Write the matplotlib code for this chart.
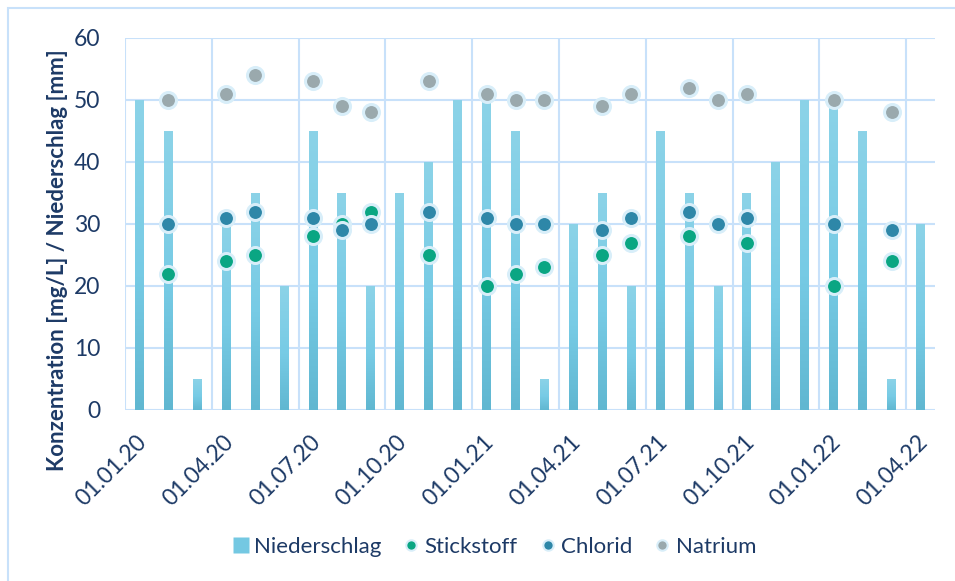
import numpy as np
import matplotlib
matplotlib.use("Agg")
import matplotlib.pyplot as plt
from matplotlib.lines import Line2D
from matplotlib.patches import Rectangle
from matplotlib.colors import LinearSegmentedColormap
from matplotlib.transforms import ScaledTranslation

# --- data -------------------------------------------------------------
tick_labels = ["01.01.20", "01.04.20", "01.07.20", "01.10.20", "01.01.21",
               "01.04.21", "01.07.21", "01.10.21", "01.01.22", "01.04.22"]

# monthly precipitation, Jan 2020 .. Apr 2022 (month index 0..27)
niederschlag = [50, 45, 5, 30, 35, 20, 45, 35, 20, 35, 40, 50,
                50, 45, 5, 30, 35, 20, 45, 35, 20, 35, 40, 50,
                50, 45, 5, 30]

# month index of each water sample
sample_months = [1, 3, 4, 6, 7, 8, 10, 12, 13, 14, 16, 17, 19, 20, 21, 24, 26]
stickstoff = [22, 24, 25, 28, 30, 32, 25, 20, 22, 23, 25, 27, 28, np.nan, 27, 20, 24]
chlorid    = [30, 31, 32, 31, 29, 30, 32, 31, 30, 30, 29, 31, 32, 30, 31, 30, 29]
natrium    = [50, 51, 54, 53, 49, 48, 53, 51, 50, 50, 49, 51, 52, 50, 51, 50, 48]

# --- style ------------------------------------------------------------
FONT = ["Lato", "DejaVu Sans"]
plt.rcParams["font.family"] = FONT
NAVY = "#1d3a66"
GRID = "#c8e1fa"
HALO = "#d8eef9"
C_STICK = "#0aa683"
C_CHLOR = "#2e87a8"
C_NAT = "#9aa9ad"
bar_cmap = LinearSegmentedColormap.from_list(
    "rain", [(0.0, "#60b7d1"), (0.45, "#77cbe5"), (1.0, "#8cd3e8")])

W, H = 955, 581
fig = plt.figure(figsize=(W / 100, H / 100), dpi=100)
ax = fig.add_axes([125 / W, 1 - 410 / H, (935 - 125) / W, (410 - 38) / H])

# outer chart frame (only top and left edges are visible)
fig.patches.append(Rectangle((8 / W, -0.2), 1.2, 1.2 - 8 / H,
                             transform=fig.transFigure, fill=False,
                             edgecolor=GRID, linewidth=1.5, clip_on=False))

months = np.arange(len(niederschlag))
bar_w = 0.31

# precipitation bars with a vertical gradient fill
bars = ax.bar(months, niederschlag, width=bar_w, color="none", zorder=2)
grad = np.linspace(0, 1, 256).reshape(-1, 1)
for rect in bars:
    x0, y0 = rect.get_x(), rect.get_y()
    bw, bh = rect.get_width(), rect.get_height()
    im = ax.imshow(grad, cmap=bar_cmap, origin="lower", aspect="auto",
                   extent=[x0, x0 + bw, y0, y0 + bh], zorder=2,
                   interpolation="bilinear")
    im.set_clip_path(rect)

ms = 11.5
mew = 2.2
for vals, col in [(stickstoff, C_STICK), (chlorid, C_CHLOR), (natrium, C_NAT)]:
    ax.plot(sample_months, vals, linestyle="none", marker="o", markersize=ms,
            markerfacecolor=col, markeredgecolor=HALO, markeredgewidth=mew,
            zorder=4)

ax.set_xlim(-0.5, len(niederschlag) - 0.5)
ax.set_ylim(0, 60)

# grid
ax.set_yticks(np.arange(0, 61, 10))
ax.yaxis.grid(True, color=GRID, linewidth=1.5, zorder=0)
ax.set_axisbelow(True)
for xv in np.arange(-0.5, len(niederschlag) - 0.5, 3):
    ax.axvline(xv, color=GRID, linewidth=1.5, zorder=1)

for s in ax.spines.values():
    s.set_visible(False)

ax.set_xticks(np.arange(0, len(niederschlag), 3))
ax.set_xticklabels(tick_labels, rotation=45, ha="right", va="center",
                   rotation_mode="anchor")
ax.tick_params(axis="x", length=0, pad=21, labelsize=16.5, labelcolor=NAVY)
ax.tick_params(axis="y", length=0, pad=18, labelsize=16.5, labelcolor=NAVY)
shift = ScaledTranslation(4 / 100, 0, fig.dpi_scale_trans)
for lab in ax.get_xticklabels():
    lab.set_transform(lab.get_transform() + shift)

fig.text(58 / W, 1 - 260 / H, "Konzentration [mg/L] / Niederschlag [mm]",
         rotation=90, ha="center", va="center", fontsize=16,
         fontweight="bold", color=NAVY)

handles = [
    Line2D([], [], linestyle="none", marker="s", markersize=11,
           markerfacecolor="#74c8e2", markeredgecolor="none"),
    Line2D([], [], linestyle="none", marker="o", markersize=7.5,
           markerfacecolor=C_STICK, markeredgecolor=HALO, markeredgewidth=1.5),
    Line2D([], [], linestyle="none", marker="o", markersize=7.5,
           markerfacecolor=C_CHLOR, markeredgecolor=HALO, markeredgewidth=1.5),
    Line2D([], [], linestyle="none", marker="o", markersize=7.5,
           markerfacecolor=C_NAT, markeredgecolor=HALO, markeredgewidth=1.5),
]
fig.legend(handles, ["Niederschlag", "Stickstoff", "Chlorid", "Natrium"],
           loc="center", bbox_to_anchor=(494 / W, 1 - 547 / H), ncol=4,
           frameon=False, fontsize=16, labelcolor=NAVY, handlelength=0.8,
           handletextpad=0.2, columnspacing=0.95)

fig.savefig("out.png", dpi=100)
